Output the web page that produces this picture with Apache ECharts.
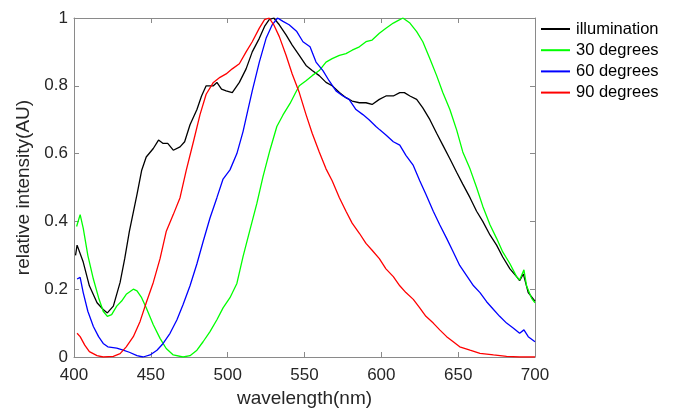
<!DOCTYPE html>
<html><head><meta charset="utf-8">
<script src="https://cdn.jsdelivr.net/npm/echarts@6/dist/echarts.min.js"></script>
<style>html,body{margin:0;padding:0;background:#fff}#c{width:673px;height:409px}</style>
</head><body><div id="c"></div><script>
const seriesNames = ['illumination', '30 degrees', '60 degrees', '90 degrees'];
const seriesColors = ['#000000', '#00ff00', '#0000ff', '#ff0000'];
const xTicks = [400, 450, 500, 550, 600, 650, 700];
const yTicks = [0, 0.2, 0.4, 0.6, 0.8, 1];

const illumWl = [401,402,406,410,415,419,421.7,425.6,430,433,436,441,444,447,451.6,455,458,461,464.6,469,472,475.5,480,483,486,490.7,493,496,499,503,507.6,512,516,520.6,524,527,530,533.6,538,542,546.6,551,555,559.6,564,568,572.7,577,581,585.7,590,594,598.7,603,607.8,612,615,618.6,623,627,631.6,636,640,644.6,649,653,657.7,662,666,670.7,675,679,683.7,688,690,692.4,695.6,700];
const illumVal = [0.30,0.33,0.28,0.21,0.16,0.14,0.13,0.15,0.22,0.29,0.37,0.48,0.55,0.59,0.615,0.64,0.63,0.63,0.61,0.62,0.635,0.685,0.73,0.77,0.80,0.80,0.81,0.79,0.785,0.78,0.81,0.85,0.90,0.94,0.975,0.995,1.0,0.98,0.95,0.92,0.89,0.86,0.845,0.83,0.81,0.80,0.78,0.765,0.755,0.75,0.75,0.745,0.76,0.77,0.77,0.78,0.78,0.77,0.76,0.735,0.70,0.66,0.625,0.585,0.545,0.51,0.47,0.43,0.40,0.36,0.33,0.295,0.26,0.237,0.225,0.245,0.19,0.165];

const deg30Wl = [401.7,404,406,409,412.6,416,419,421.7,424.5,427.8,431,434,438.6,441,444,447,451.6,456,460,464.6,471,475.5,480,484,488.5,493,497,501.5,506,510,514.5,519,523,527.5,532,536,540.6,544,546.6,551,555,559.6,564,568,572.7,577,581,585.7,590,594,598.7,603,607.8,612,614,618.6,623,627,631.6,636,640,644.6,649,653,657.7,662,666,670.7,675,679,683.7,688,690,692.8,694.5,697.8,700];
const deg30Val = [0.385,0.42,0.38,0.30,0.23,0.175,0.135,0.12,0.125,0.15,0.165,0.185,0.20,0.195,0.175,0.145,0.095,0.055,0.025,0.006,0.0,0.004,0.02,0.045,0.075,0.11,0.145,0.175,0.217,0.296,0.375,0.453,0.532,0.61,0.68,0.714,0.748,0.778,0.80,0.815,0.83,0.845,0.87,0.88,0.89,0.895,0.905,0.915,0.93,0.935,0.955,0.97,0.985,0.995,1.0,0.985,0.96,0.93,0.88,0.83,0.78,0.73,0.67,0.605,0.555,0.50,0.445,0.39,0.35,0.31,0.275,0.237,0.227,0.257,0.21,0.173,0.16];

const deg60Wl = [402,404,406,409,412.6,416,419,422,427.8,432,436,441,445,449.5,454,458,462.5,467,471,475.5,480,484,488.5,493,497,501.5,506,510,513,516,520.6,525,529,532.5,536,540,545,549,553.6,557.5,562,566,570.5,575,579,583.5,588,592,596.5,599,603,607.8,612,616,620.8,625,629,633.8,638,642.5,646.8,651,655.5,660,664.2,668.5,673,677,681.5,686,690,692.8,695.6,700];
const deg60Val = [0.23,0.235,0.19,0.135,0.09,0.06,0.04,0.03,0.026,0.02,0.014,0.004,0,0.006,0.02,0.04,0.07,0.11,0.155,0.21,0.275,0.34,0.41,0.47,0.525,0.552,0.60,0.665,0.725,0.785,0.87,0.94,0.98,1.0,0.99,0.98,0.96,0.93,0.915,0.87,0.845,0.815,0.785,0.77,0.76,0.73,0.715,0.70,0.68,0.67,0.655,0.635,0.625,0.595,0.565,0.52,0.48,0.43,0.39,0.35,0.31,0.27,0.24,0.21,0.19,0.163,0.14,0.12,0.10,0.085,0.07,0.08,0.06,0.045];

const deg90Wl = [402,404,407,410,415,419,425.6,430,434,438.6,443,447,451.6,456,460,464.6,469,473,477.7,482,486,490.7,495,499,503,507.6,512,516,520.6,524,527,530,533.6,538,542,546.6,551,555,559.6,564,568,572.7,577,581,585.7,590,594,598.7,603,607.8,612,616,620.8,625,629,633.8,638,642.5,646.8,651,657.7,664.2,673,681.5,690,700];
const deg90Val = [0.07,0.06,0.035,0.016,0.004,0,0.002,0.01,0.03,0.06,0.105,0.16,0.22,0.29,0.37,0.42,0.47,0.55,0.635,0.715,0.775,0.81,0.825,0.835,0.85,0.865,0.90,0.93,0.97,0.995,1.0,0.98,0.945,0.89,0.835,0.78,0.715,0.66,0.605,0.555,0.52,0.47,0.43,0.395,0.365,0.335,0.315,0.29,0.26,0.237,0.21,0.19,0.17,0.145,0.12,0.10,0.08,0.06,0.045,0.03,0.02,0.011,0.006,0.002,0,0];

const wls = [illumWl, deg30Wl, deg60Wl, deg90Wl];
const vals = [illumVal, deg30Val, deg60Val, deg90Val];

const axisGray = '#8a8a8a';
const textCol = '#262626';
const font = 'Liberation Sans, Arial, sans-serif';

const chart = echarts.init(document.getElementById('c'));
const baseX = {
  type: 'value', min: xTicks[0], max: xTicks[xTicks.length - 1], interval: 50,
  splitLine: { show: false },
  axisLine: { show: true, onZero: false, lineStyle: { color: axisGray, width: 1 } },
  axisTick: { show: true, inside: true, length: 5, lineStyle: { color: axisGray } }
};
const baseY = {
  type: 'value', min: yTicks[0], max: yTicks[yTicks.length - 1], interval: 0.2,
  splitLine: { show: false },
  axisLine: { show: true, onZero: false, lineStyle: { color: axisGray, width: 1 } },
  axisTick: { show: true, inside: true, length: 5, lineStyle: { color: axisGray } }
};

chart.setOption({
  animation: false,
  backgroundColor: '#ffffff',
  grid: { left: 74, right: 138, top: 18, bottom: 52, containLabel: false, outerBoundsMode: 'none' },
  legend: {
    orient: 'vertical', left: 541, top: 20.5, padding: 0,
    icon: 'rect', itemWidth: 29, itemHeight: 2, itemGap: 4.2,
    data: seriesNames,
    textStyle: { fontSize: 16.5, color: '#000', fontFamily: font, lineHeight: 16, padding: [0, 0, 0, 1] }
  },
  xAxis: [
    Object.assign({}, baseX, {
      position: 'bottom',
      axisLabel: { color: textCol, fontSize: 17, margin: 10, fontFamily: font },
      name: 'wavelength(nm)', nameLocation: 'middle', nameGap: 32,
      nameTextStyle: { fontSize: 19, color: textCol, fontFamily: font }
    }),
    Object.assign({}, baseX, { position: 'top', axisLabel: { show: false } })
  ],
  yAxis: [
    Object.assign({}, baseY, {
      position: 'left',
      axisLabel: { color: textCol, fontSize: 17, margin: 6, fontFamily: font },
      name: 'relative intensity(AU)', nameLocation: 'middle', nameGap: 40,
      nameTextStyle: { fontSize: 19, color: textCol, fontFamily: font }
    }),
    Object.assign({}, baseY, { position: 'right', axisLabel: { show: false } })
  ],
  series: seriesNames.map((n, i) => ({
    name: n, type: 'line', xAxisIndex: 0, yAxisIndex: 0,
    symbol: 'none', showSymbol: false, smooth: false,
    lineStyle: { color: seriesColors[i], width: 1.3 },
    itemStyle: { color: seriesColors[i] },
    data: wls[i].map((w, k) => [w, vals[i][k]])
  }))
});
</script></body></html>
